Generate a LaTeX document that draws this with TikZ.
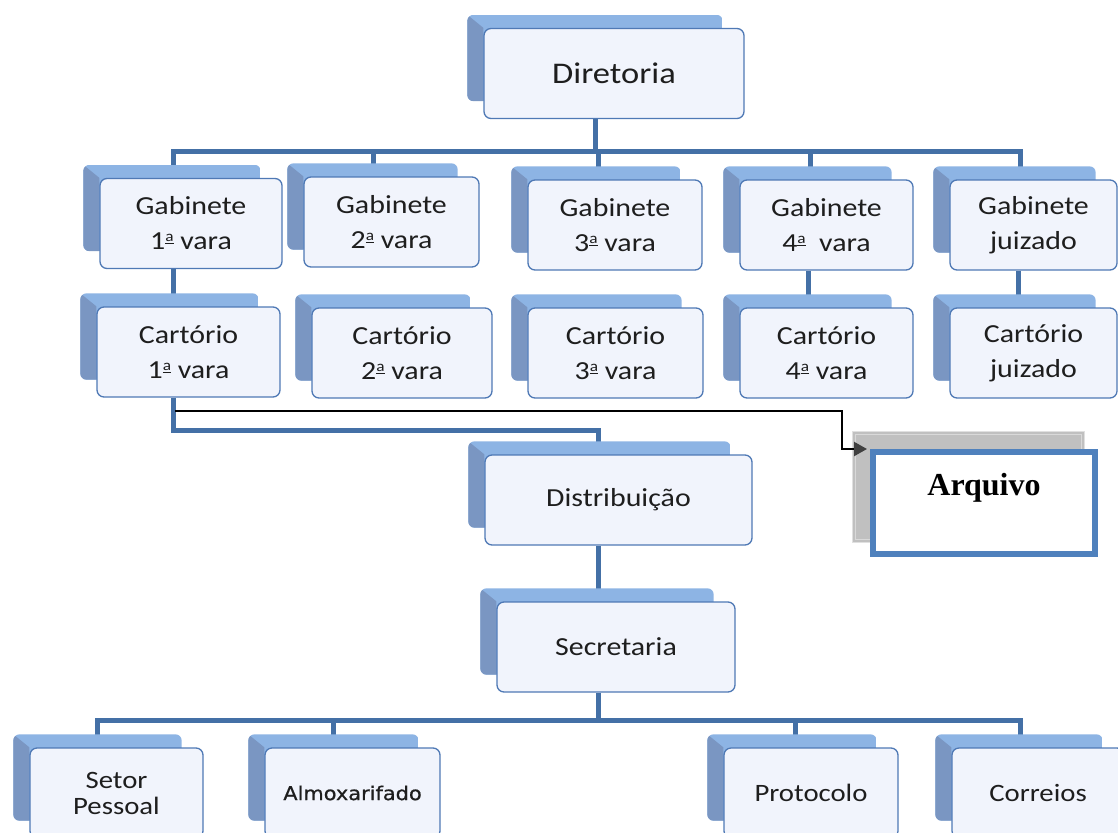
\documentclass[tikz,border=0pt]{standalone}
\usepackage{fontspec}
\setmainfont{Carlito}[FakeStretch=1.15]
\newfontfamily\almfont{DejaVu Sans}[FakeStretch=1.1, FakeBold=0.8]
\newfontfamily\arqfont{Liberation Serif}
\usetikzlibrary{calc,arrows.meta}
\pgfdeclarelayer{wires}
\pgfdeclarelayer{shade}
\pgfsetlayers{wires,shade,main}
\definecolor{wireblue}{RGB}{68,112,166}
\definecolor{rimblue}{RGB}{79,121,181}
\definecolor{facefill}{RGB}{241,244,252}
\definecolor{shadelight}{RGB}{141,180,228}
\definecolor{shadedark}{RGB}{122,150,194}
\definecolor{inkgray}{RGB}{30,30,30}
\definecolor{arqblue}{RGB}{79,129,189}
\definecolor{arqgray}{RGB}{192,192,192}
\newcommand\ordfem{\raisebox{8pt}{\fontsize{15}{15}\selectfont\underline{a}}}
\tikzset{
  unit/.style={draw=rimblue, line width=1.3pt, rounded corners=7pt, fill=facefill,
    minimum height=90pt, inner sep=0pt, align=center, text=inkgray,
    font=\fontsize{26}{35}\selectfont},
  lowunit/.style={unit, font=\fontsize{25}{26}\selectfont},
  wire/.style={draw=wireblue, line width=5pt},
  feed/.style={draw=black, line width=2.2pt, -{Triangle[length=13pt,width=14pt,color=black!75]}},
  arqbox/.style={draw=arqblue, line width=6pt, fill=white, minimum width=222pt,
    minimum height=102pt, inner sep=0pt}
}

\begin{document}
\begin{tikzpicture}[x=1pt, y=-1pt]
\useasboundingbox (0,0) rectangle (1118,832);
% top
\node[unit, minimum width=260pt, font=\fontsize{30}{30}\selectfont] (dir) at (614,73.5) {Diretoria};
% gabinetes
\node[unit, minimum width=182pt] (gab1) at (191,223.5) {Gabinete\\1\ordfem\ vara};
\node[unit, minimum width=175pt] (gab2) at (391.5,222) {Gabinete\\2\ordfem\ vara};
\node[unit, minimum width=174pt] (gab3) at (615,225) {Gabinete\\3\ordfem\ vara};
\node[unit, minimum width=173pt] (gab4) at (826.5,225) {Gabinete\\4\ordfem\ \ vara};
\node[unit, minimum width=167pt] (gab5) at (1033.5,225) {Gabinete\\juizado};
% cartorios
\node[unit, minimum width=183pt] (cart1) at (188.5,352) {Cartório\\1\ordfem\ vara};
\node[unit, minimum width=180pt] (cart2) at (402,353) {Cartório\\2\ordfem\ vara};
\node[unit, minimum width=175pt] (cart3) at (615.5,353) {Cartório\\3\ordfem\ vara};
\node[unit, minimum width=173pt] (cart4) at (826.5,353) {Cartório\\4\ordfem\ vara};
\node[unit, minimum width=167pt] (cart5) at (1033.5,353) {Cartório\\juizado};
% middle
\node[unit, minimum width=267pt] (dist) at (618.5,500) {Distribuição};
\node[unit, minimum width=238pt] (secr) at (616,647) {Secretaria};
% bottom row
\node[lowunit, minimum width=173pt] (setor) at (116.5,793) {Setor\\Pessoal};
\node[lowunit, minimum width=175pt, font=\almfont\fontsize{19}{20}\selectfont] (almox) at (352.5,793) {Almoxarifado};
\node[lowunit, minimum width=174pt] (proto) at (811,793) {Protocolo};
\node[lowunit, minimum width=172pt] (corr) at (1038,793) {Correios};
% arquivo
\node[arqbox] (arq) at (984,503) {};
\node[anchor=base, font=\arqfont\bfseries\fontsize{32}{32}\selectfont] (arqlabel) at ($(arq.north)+(0,46)$) {Arquivo};

% shadows behind the boxes
\begin{pgfonlayer}{shade}
\foreach \n in {dir,gab1,gab2,gab3,gab4,gab5,cart1,cart2,cart3,cart4,cart5,dist,secr,setor,almox,proto,corr}{
  \begin{scope}
    \clip[rounded corners=6pt] ($(\n.north west)+(-16,-13)$) rectangle ($(\n.south east)+(-22,-18)$);
    \fill[shadelight] ($(\n.north west)+(-16,-13)$) rectangle ($(\n.south east)+(-22,-18)$);
    \fill[shadedark] ($(\n.north west)+(-16,-13)$) -- (\n.north west) -- ($(\n.south west)+(0,-18)$) -- ($(\n.south west)+(-16,-18)$) -- cycle;
  \end{scope}
}
\fill[arqgray, draw=black!12, line width=1pt] ($(arq.north west)+(-18,-18)$) rectangle ($(arq.south east)+(-14,-15)$);
\draw[white!85!black, line width=0.8pt] ($(arq.north west)+(-15,-15)$) rectangle ($(arq.south east)+(-17,-18)$);
\end{pgfonlayer}

% connectors
\begin{pgfonlayer}{wires}
\coordinate (topbus) at ($(dir.south)+(-19,32)$);
\draw[wire] ([xshift=-19pt]dir.south) -- (topbus);
\foreach \n/\dx in {gab1/-18,gab2/-18.5,gab3/-17,gab4/-16.5,gab5/-13.5}
  \draw[wire] (topbus) -| ([xshift=\dx pt]\n.north);
\foreach \n/\m/\dx in {gab1/cart1/-18,gab4/cart4/-18.5,gab5/cart5/-15.5}
  \draw[wire] ([xshift=\dx pt]\n.south) -- ([xshift=\dx pt]\n.south |- \m.north);
\draw[wire] ([xshift=-15.5pt]cart1.south) -- ++(0,33) -| ([xshift=-20pt]dist.north);
\draw[wire] ([xshift=-20pt]dist.south) -- ([xshift=-20pt]dist.south |- secr.north);
\coordinate (lowbus) at ($(secr.south)+(-18,28)$);
\draw[wire] ([xshift=-18pt]secr.south) -- (lowbus);
\foreach \n/\dx in {setor/-19.5,almox/-19.5,proto/-16,corr/-18}
  \draw[wire] (lowbus) -| ([xshift=\dx pt]\n.north);
\end{pgfonlayer}

% link to arquivo
\coordinate (tap) at ($(cart1.south)+(-13.5,13)$);
\draw[feed] (tap) -- ++(667,0) |- ([xshift=-3pt]arq.north west);
\end{tikzpicture}
\end{document}
